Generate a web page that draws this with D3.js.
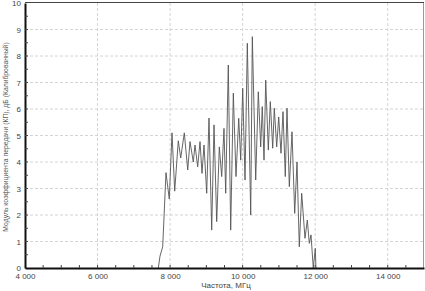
<!DOCTYPE html>
<html>
<head>
<meta charset="utf-8">
<script src="https://cdn.jsdelivr.net/npm/d3@7"></script>
<style>
  body { margin: 0; background: #fff; }
  svg { display: block; font-family: "Liberation Sans", Arial, sans-serif; }
</style>
</head>
<body>
<div id="chart"></div>
<script>
// frequency, MHz
const freq = [7675, 7722, 7796, 7887, 7978, 8053, 8127, 8226, 8293, 8392, 8486, 8549, 8640, 8687,
  8761, 8825, 8880, 8935, 9009, 9073, 9147, 9211, 9285, 9357, 9423, 9486, 9533, 9605, 9671, 9743,
  9817, 9892, 9947, 10002, 10066, 10129, 10223, 10267, 10360, 10432, 10498, 10542, 10589, 10636,
  10708, 10763, 10829, 10873, 10939, 10994, 11058, 11113, 11176, 11223, 11287, 11361, 11435, 11499,
  11562, 11628, 11719, 11783, 11838, 11885, 11948, 12003, 12022];
// transfer coefficient, dB
const gain = [0, 0.45, 0.8, 3.6, 2.6, 5.1, 2.9, 4.8, 4.15, 5.1, 3.7, 4.77, 4.0, 4.64,
  3.82, 4.77, 3.57, 4.64, 2.82, 5.66, 1.43, 5.4, 1.75, 4.57, 3.45, 5.27, 2.82, 7.66, 1.43, 6.6,
  3.45, 5.65, 4.07, 6.78, 3.32, 8.48, 2.0, 8.73, 3.32, 6.65, 4.57, 6.09, 4.07, 7.09,
  4.45, 6.28, 4.52, 6.03, 4.57, 5.7, 4.33, 5.9, 3.45, 6.03, 3.07, 5.14, 2.06, 4.0,
  0.8, 2.82, 1.12, 1.81, 0.93, 1.25, 0, 0.74, 0];

const xTicks = [4000, 6000, 8000, 10000, 12000, 14000];
const yTicks = [0, 1, 2, 3, 4, 5, 6, 7, 8, 9, 10];
const xLabel = "Частота, МГц";
const yLabel = "Модуль коэффициента передачи (КП), дБ (Калиброванный)";

const W = 425, H = 291;
const svg = d3.select("#chart").append("svg").attr("width", W).attr("height", H);

const x = d3.scaleLinear().domain([4000, 15000]).range([25, 424]);
const y = d3.scaleLinear().domain([0, 10]).range([268, 3]);

const fmt = d => d3.format(",")(d).replace(/,/g, " ");

// grid
svg.append("g").selectAll("line").data(xTicks.slice(1)).join("line")
  .attr("x1", d => x(d)).attr("x2", d => x(d))
  .attr("y1", y(10)).attr("y2", y(0))
  .attr("stroke", "#d4d4d4").attr("stroke-width", 1).attr("stroke-dasharray", "3,2");
svg.append("g").selectAll("line").data(yTicks.slice(1, -1)).join("line")
  .attr("x1", x(4000)).attr("x2", x(15000))
  .attr("y1", d => y(d)).attr("y2", d => y(d))
  .attr("stroke", "#d4d4d4").attr("stroke-width", 1).attr("stroke-dasharray", "3,2");

// frame top/right
svg.append("line").attr("x1", x(4000)).attr("x2", x(15000)).attr("y1", y(10) - 0.5).attr("y2", y(10) - 0.5)
  .attr("stroke", "#444").attr("stroke-width", 1);
svg.append("line").attr("x1", x(15000) - 0.5).attr("x2", x(15000) - 0.5).attr("y1", y(10)).attr("y2", y(0))
  .attr("stroke", "#999").attr("stroke-width", 1);

// data trace
const pts = freq.map((f, i) => [f, gain[i]]);
svg.append("path").datum(pts)
  .attr("fill", "none").attr("stroke", "#555").attr("stroke-width", 0.9)
  .attr("d", d3.line().x(d => x(d[0])).y(d => y(d[1])));

// x axis
const xAxis = svg.append("g").attr("transform", `translate(0,${y(0)})`)
  .call(d3.axisBottom(x).tickValues(xTicks).tickFormat(fmt).tickSize(0).tickPadding(5));
xAxis.select(".domain").attr("stroke", "#111").attr("stroke-width", 2);
xAxis.selectAll("text").attr("font-size", 8).attr("fill", "#444");
svg.append("g").selectAll("line").data(d3.range(4500, 15000, 500)).join("line")
  .attr("x1", d => x(d)).attr("x2", d => x(d))
  .attr("y1", y(0)).attr("y2", y(0) - 3)
  .attr("stroke", "#444").attr("stroke-width", 1);

// y axis
const yAxis = svg.append("g").attr("transform", `translate(${x(4000)},0)`)
  .call(d3.axisLeft(y).tickValues(yTicks).tickSize(0).tickPadding(4));
yAxis.select(".domain").attr("stroke", "#111").attr("stroke-width", 2);
yAxis.selectAll("text").attr("font-size", 8).attr("fill", "#444");
svg.append("g").selectAll("line").data(d3.range(0.5, 10, 0.5)).join("line")
  .attr("x1", x(4000)).attr("x2", x(4000) + 3)
  .attr("y1", d => y(d)).attr("y2", d => y(d))
  .attr("stroke", "#444").attr("stroke-width", 1);

// axis titles
svg.append("text").attr("x", 226).attr("y", 288).attr("text-anchor", "middle")
  .attr("font-size", 8).attr("fill", "#444").text(xLabel);
svg.append("text").attr("transform", "translate(8,137) rotate(-90)").attr("text-anchor", "middle")
  .attr("font-size", 6.8).attr("fill", "#555").text(yLabel);
</script>
</body>
</html>
